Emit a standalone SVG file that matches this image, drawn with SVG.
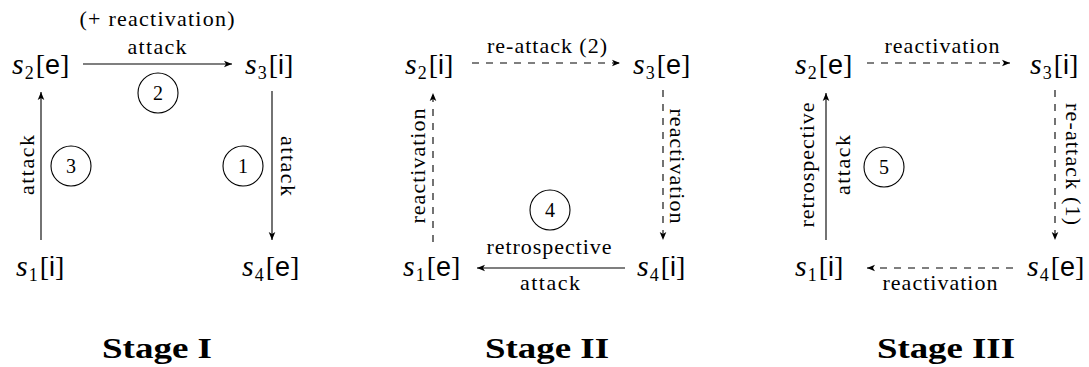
<svg xmlns="http://www.w3.org/2000/svg" width="1089" height="367" viewBox="0 0 1089 367">
<style>
text{fill:#000}
.n{font-family:"Liberation Serif",serif;font-size:28px}
.m{font-style:italic;font-size:30px}
.sub{font-size:18px}
.sf{font-family:"Liberation Sans",sans-serif;font-size:27px}
.el{font-family:"Liberation Serif",serif;font-size:22px}
.num{font-family:"Liberation Serif",serif;font-size:20px;text-anchor:middle}
.title{font-family:"Liberation Serif",serif;font-size:30px;font-weight:bold;text-anchor:middle}
.c{fill:none;stroke:#000;stroke-width:1.1}
.e{fill:none;stroke:#000;stroke-width:1.1;marker-end:url(#ah)}
.d{stroke-dasharray:7 7}
.mid{text-anchor:middle}
</style>
<defs>
<marker id="ah" markerWidth="10" markerHeight="8" refX="8" refY="4" orient="auto" markerUnits="userSpaceOnUse"><path d="M0,0.7 L8,4 L0,7.3 L2,4 z" fill="#000"/></marker>
</defs>

<g id="connectors">
<line class="e" x1="83" y1="64" x2="232" y2="64"/>
<line class="e" x1="41" y1="240" x2="41" y2="92"/>
<line class="e" x1="272" y1="91" x2="272" y2="240"/>
<line class="e d" x1="472" y1="63" x2="620" y2="63"/>
<line class="e d" x1="433" y1="242" x2="433" y2="93"/>
<line class="e d" x1="663" y1="90" x2="663" y2="240"/>
<line class="e" x1="625" y1="268" x2="477" y2="268"/>
<line class="e d" x1="867" y1="63" x2="1010" y2="63"/>
<line class="e" x1="826" y1="240" x2="826" y2="93"/>
<line class="e d" x1="1055" y1="90" x2="1055" y2="240"/>
<line class="e d" x1="1013" y1="268" x2="867" y2="268"/>
</g>

<g id="edge-labels">
<text class="el mid" x="157" y="26" textLength="155">(+ reactivation)</text>
<text class="el mid" x="157" y="54" textLength="59">attack</text>
<text class="el mid" transform="translate(34,165) rotate(-90)" textLength="60">attack</text>
<text class="el mid" transform="translate(281,166) rotate(90)" textLength="60">attack</text>

<text class="el mid" x="547" y="53" textLength="120">re-attack (2)</text>
<text class="el mid" transform="translate(425,166) rotate(-90)" textLength="115">reactivation</text>
<text class="el mid" transform="translate(670,166) rotate(90)" textLength="115">reactivation</text>
<text class="el mid" x="549" y="254" textLength="125">retrospective</text>
<text class="el mid" x="550" y="290" textLength="60">attack</text>

<text class="el mid" x="942" y="53" textLength="115">reactivation</text>
<text class="el mid" transform="translate(814,165) rotate(-90)" textLength="125">retrospective</text>
<text class="el mid" transform="translate(850,165) rotate(-90)" textLength="60">attack</text>
<text class="el mid" transform="translate(1066,164) rotate(90)" textLength="122">re-attack (1)</text>
<text class="el mid" x="940" y="290" textLength="115">reactivation</text>
</g>

<g id="circles">
<g id="c1"><circle class="c" cx="243" cy="166" r="20"/><text class="num" x="243" y="173">1</text></g>
<g id="c2"><circle class="c" cx="158" cy="93" r="20"/><text class="num" x="158" y="100">2</text></g>
<g id="c3"><circle class="c" cx="71" cy="166" r="20"/><text class="num" x="71" y="173">3</text></g>
<g id="c4"><circle class="c" cx="550" cy="210" r="20"/><text class="num" x="550" y="217">4</text></g>
<g id="c5"><circle class="c" cx="884" cy="167" r="20"/><text class="num" x="884" y="174">5</text></g>
</g>

<g id="I-s2"><text class="n" x="12" y="74"><tspan class="m">s</tspan><tspan class="sub" dx="1" dy="5">2</tspan><tspan dx="2" dy="-5">[</tspan><tspan class="sf">e</tspan><tspan>]</tspan></text></g>
<g id="I-s3"><text class="n" x="245" y="74"><tspan class="m">s</tspan><tspan class="sub" dx="1" dy="5">3</tspan><tspan dx="2" dy="-5">[</tspan><tspan class="sf">i</tspan><tspan>]</tspan></text></g>
<g id="I-s1"><text class="n" x="16" y="276"><tspan class="m">s</tspan><tspan class="sub" dx="1" dy="5">1</tspan><tspan dx="2" dy="-5">[</tspan><tspan class="sf">i</tspan><tspan>]</tspan></text></g>
<g id="I-s4"><text class="n" x="242" y="276"><tspan class="m">s</tspan><tspan class="sub" dx="1" dy="5">4</tspan><tspan dx="2" dy="-5">[</tspan><tspan class="sf">e</tspan><tspan>]</tspan></text></g>

<g id="II-s2"><text class="n" x="405" y="74"><tspan class="m">s</tspan><tspan class="sub" dx="1" dy="5">2</tspan><tspan dx="2" dy="-5">[</tspan><tspan class="sf">i</tspan><tspan>]</tspan></text></g>
<g id="II-s3"><text class="n" x="633" y="74"><tspan class="m">s</tspan><tspan class="sub" dx="1" dy="5">3</tspan><tspan dx="2" dy="-5">[</tspan><tspan class="sf">e</tspan><tspan>]</tspan></text></g>
<g id="II-s1"><text class="n" x="403" y="276"><tspan class="m">s</tspan><tspan class="sub" dx="1" dy="5">1</tspan><tspan dx="2" dy="-5">[</tspan><tspan class="sf">e</tspan><tspan>]</tspan></text></g>
<g id="II-s4"><text class="n" x="637" y="276"><tspan class="m">s</tspan><tspan class="sub" dx="1" dy="5">4</tspan><tspan dx="2" dy="-5">[</tspan><tspan class="sf">i</tspan><tspan>]</tspan></text></g>

<g id="III-s2"><text class="n" x="795" y="74"><tspan class="m">s</tspan><tspan class="sub" dx="1" dy="5">2</tspan><tspan dx="2" dy="-5">[</tspan><tspan class="sf">e</tspan><tspan>]</tspan></text></g>
<g id="III-s3"><text class="n" x="1030" y="74"><tspan class="m">s</tspan><tspan class="sub" dx="1" dy="5">3</tspan><tspan dx="2" dy="-5">[</tspan><tspan class="sf">i</tspan><tspan>]</tspan></text></g>
<g id="III-s1"><text class="n" x="795" y="276"><tspan class="m">s</tspan><tspan class="sub" dx="1" dy="5">1</tspan><tspan dx="2" dy="-5">[</tspan><tspan class="sf">i</tspan><tspan>]</tspan></text></g>
<g id="III-s4"><text class="n" x="1027" y="276"><tspan class="m">s</tspan><tspan class="sub" dx="1" dy="5">4</tspan><tspan dx="2" dy="-5">[</tspan><tspan class="sf">e</tspan><tspan>]</tspan></text></g>

<g id="titles">
<text class="title" x="157" y="358" textLength="110" lengthAdjust="spacingAndGlyphs">Stage I</text>
<text class="title" x="547" y="358" textLength="124" lengthAdjust="spacingAndGlyphs">Stage II</text>
<text class="title" x="946" y="358" textLength="138" lengthAdjust="spacingAndGlyphs">Stage III</text>
</g>
</svg>
